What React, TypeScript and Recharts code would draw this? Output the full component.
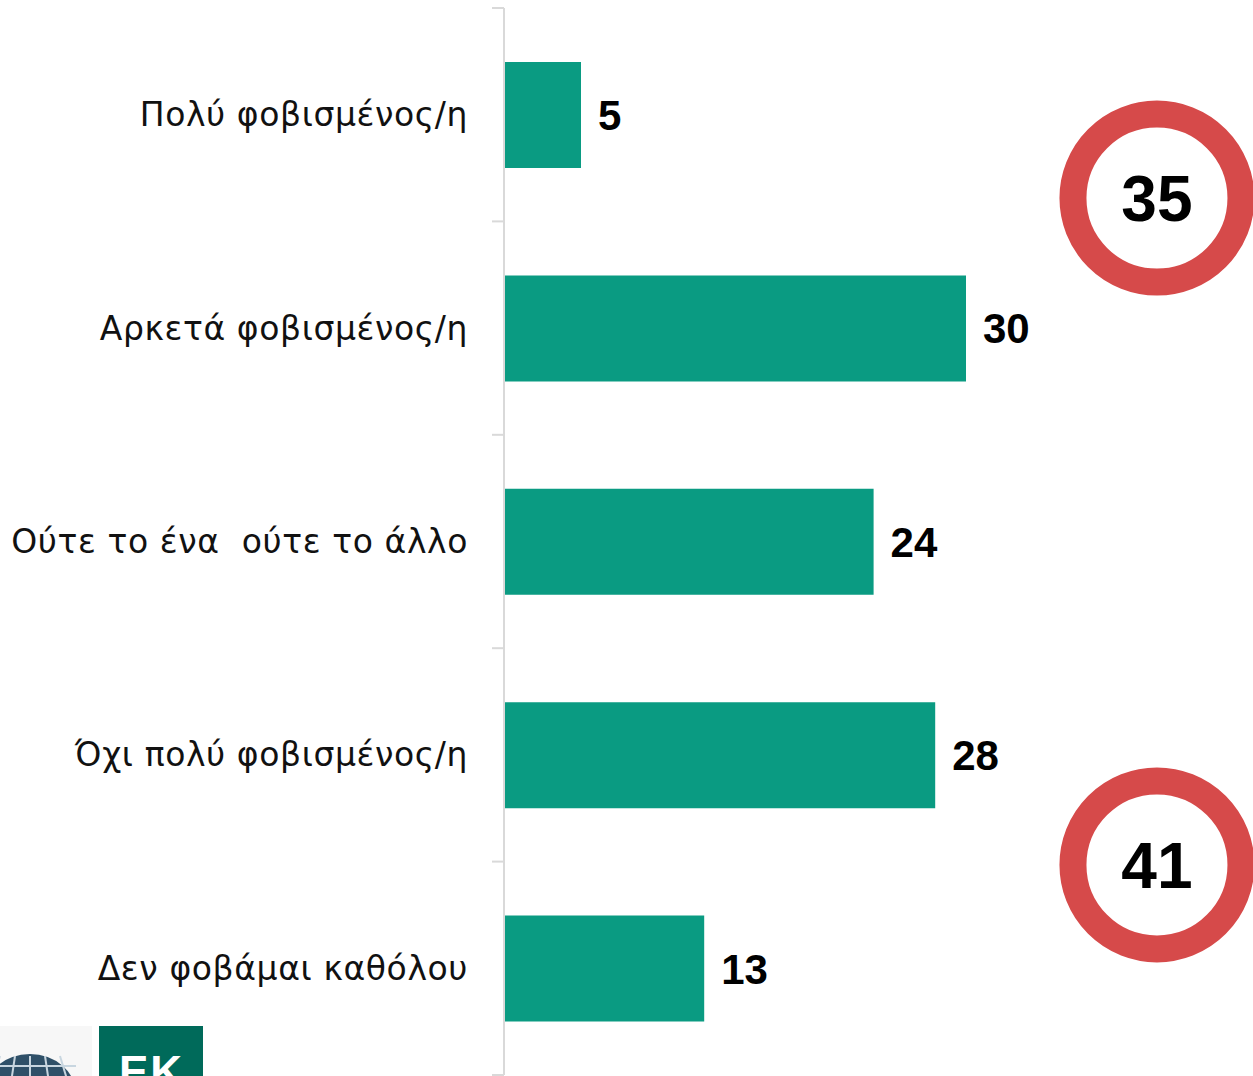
import React from 'react';
import {
  BarChart,
  Bar,
  XAxis,
  YAxis,
  LabelList,
  ReferenceDot,
} from 'recharts';

const categories = [
  'Πολύ φοβισμένος/η',
  'Αρκετά φοβισμένος/η',
  'Ούτε το ένα  ούτε το άλλο',
  'Όχι πολύ φοβισμένος/η',
  'Δεν φοβάμαι καθόλου',
];
const values = [5, 30, 24, 28, 13];
// net totals shown in the red rings, anchored next to a category row
const totals = [35, 41];
const totalAnchors = [1, 3];
const totalShift = [-130, 110];

const data = categories.map((name, i) => ({ name, value: values[i] }));

const BAR = '#0a9b82';
const RED = '#d64a4a';
const AXIS = '#d9d9d9';

function CatTick(props: any) {
  const { x, y, payload, index, visibleTicksCount } = props;
  const half = payload.offset ?? 0;
  const ax = x + 36;
  return (
    <g>
      <line x1={ax - 12} x2={ax} y1={y - half} y2={y - half} stroke={AXIS} strokeWidth={2} />
      {index === visibleTicksCount - 1 && (
        <line x1={ax - 12} x2={ax} y1={y + half} y2={y + half} stroke={AXIS} strokeWidth={2} />
      )}
      <text
        x={x}
        y={y}
        dy="0.35em"
        textAnchor="end"
        fontFamily="'DejaVu Sans', sans-serif"
        fontSize={33}
        letterSpacing={0.6}
        fill="#111"
        style={{ whiteSpace: 'pre' }}
      >
        {payload.value}
      </text>
    </g>
  );
}

function Ring(props: any) {
  const { cx, cy, value, shift } = props;
  const y = cy + shift;
  return (
    <g>
      <circle cx={cx} cy={y} r={84} fill="#fff" stroke={RED} strokeWidth={27} />
      <text
        x={cx}
        y={y}
        dy="0.36em"
        textAnchor="middle"
        fontFamily="'Liberation Sans', Arial, sans-serif"
        fontWeight="bold"
        fontSize={64}
        fill="#000"
      >
        {value}
      </text>
    </g>
  );
}

function Logos() {
  return (
    <>
      <div
        style={{
          position: 'absolute',
          left: 0,
          top: 1026,
          width: 92,
          height: 50,
          background: '#f7f7f7',
          overflow: 'hidden',
        }}
      >
        <svg width={92} height={50}>
          <ellipse cx={30} cy={68} rx={46} ry={40} fill="#2f5068" />
          {[-30, -15, 0, 15, 30].map((d) => (
            <line key={d} x1={30 + d} y1={30} x2={30 + d * 1.3} y2={60} stroke="#c8d6e0" strokeWidth={2} />
          ))}
          <line x1={0} y1={40} x2={76} y2={40} stroke="#c8d6e0" strokeWidth={2} />
        </svg>
      </div>
      <div
        style={{
          position: 'absolute',
          left: 99,
          top: 1026,
          width: 104,
          height: 50,
          background: '#006a5a',
          overflow: 'hidden',
        }}
      >
        <span
          style={{
            position: 'absolute',
            left: 20,
            top: 24,
            color: '#fff',
            fontFamily: "'Liberation Sans', Arial, sans-serif",
            fontWeight: 'bold',
            fontSize: 44,
            lineHeight: '44px',
            letterSpacing: 2,
          }}
        >
          EK
        </span>
      </div>
    </>
  );
}

export default function App() {
  return (
    <div style={{ position: 'absolute', left: 0, top: 0, width: 1253, height: 1076, background: '#fff', overflow: 'hidden' }}>
      <BarChart
        width={1253}
        height={1076}
        data={data}
        layout="vertical"
        margin={{ top: 8, right: 56, bottom: 1, left: 0 }}
      >
        <XAxis type="number" domain={[0, 45]} hide />
        <YAxis
          type="category"
          dataKey="name"
          width={504}
          tickLine={false}
          axisLine={{ stroke: AXIS, strokeWidth: 2 }}
          tick={<CatTick />}
          tickSize={0}
          tickMargin={36}
        />
        <Bar dataKey="value" fill={BAR} barSize={106} isAnimationActive={false}>
          <LabelList
            dataKey="value"
            position="right"
            offset={17}
            fill="#000"
            fontSize={42}
            fontWeight="bold"
            fontFamily="'Liberation Sans', Arial, sans-serif"
          />
        </Bar>
        {totals.map((t, i) => (
          <ReferenceDot
            key={t}
            x={42.4}
            y={categories[totalAnchors[i]]}
            r={84}
            ifOverflow="visible"
            shape={(p: any) => <Ring {...p} value={t} shift={totalShift[i]} />}
          />
        ))}
      </BarChart>
      <Logos />
    </div>
  );
}
